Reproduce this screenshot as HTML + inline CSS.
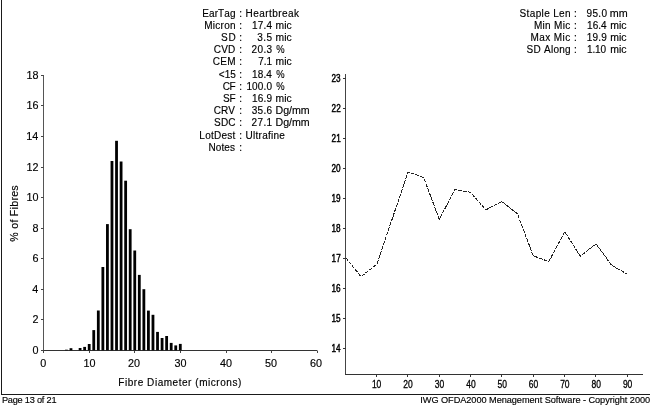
<!DOCTYPE html>
<html><head><meta charset="utf-8"><style>
html,body{margin:0;padding:0;background:#fff;width:650px;height:407px;overflow:hidden}
svg{display:block;will-change:transform;font-family:"Liberation Sans", sans-serif;font-kerning:none;font-variant-ligatures:none}
text{stroke:#000;stroke-width:0.15px}
</style></head><body>
<svg width="650" height="407" viewBox="0 0 650 407">
<rect width="650" height="407" fill="#fff"/>
<line x1="1.50" y1="0.00" x2="1.50" y2="395.00" stroke="#1a1a1a" stroke-width="1"/>
<line x1="1.00" y1="394.50" x2="650.00" y2="394.50" stroke="#1a1a1a" stroke-width="1"/>
<line x1="43.50" y1="75.00" x2="43.50" y2="351.00" stroke="#555" stroke-width="1"/>
<line x1="43.00" y1="350.50" x2="317.00" y2="350.50" stroke="#333" stroke-width="1"/>
<line x1="41.00" y1="350.50" x2="43.50" y2="350.50" stroke="#444" stroke-width="1"/>
<line x1="41.00" y1="319.50" x2="43.50" y2="319.50" stroke="#444" stroke-width="1"/>
<line x1="41.00" y1="289.50" x2="43.50" y2="289.50" stroke="#444" stroke-width="1"/>
<line x1="41.00" y1="258.50" x2="43.50" y2="258.50" stroke="#444" stroke-width="1"/>
<line x1="41.00" y1="228.50" x2="43.50" y2="228.50" stroke="#444" stroke-width="1"/>
<line x1="41.00" y1="197.50" x2="43.50" y2="197.50" stroke="#444" stroke-width="1"/>
<line x1="41.00" y1="167.50" x2="43.50" y2="167.50" stroke="#444" stroke-width="1"/>
<line x1="41.00" y1="136.50" x2="43.50" y2="136.50" stroke="#444" stroke-width="1"/>
<line x1="41.00" y1="105.50" x2="43.50" y2="105.50" stroke="#444" stroke-width="1"/>
<line x1="41.00" y1="75.50" x2="43.50" y2="75.50" stroke="#444" stroke-width="1"/>
<line x1="43.50" y1="350.50" x2="43.50" y2="353.00" stroke="#444" stroke-width="1"/>
<line x1="89.50" y1="350.50" x2="89.50" y2="353.00" stroke="#444" stroke-width="1"/>
<line x1="134.50" y1="350.50" x2="134.50" y2="353.00" stroke="#444" stroke-width="1"/>
<line x1="180.50" y1="350.50" x2="180.50" y2="353.00" stroke="#444" stroke-width="1"/>
<line x1="226.50" y1="350.50" x2="226.50" y2="353.00" stroke="#444" stroke-width="1"/>
<line x1="271.50" y1="350.50" x2="271.50" y2="353.00" stroke="#444" stroke-width="1"/>
<line x1="317.50" y1="350.50" x2="317.50" y2="353.00" stroke="#444" stroke-width="1"/>
<rect x="65.02" y="349.70" width="2.80" height="0.60" fill="#000"/>
<rect x="69.58" y="348.20" width="2.80" height="2.10" fill="#000"/>
<rect x="78.69" y="348.00" width="2.80" height="2.30" fill="#000"/>
<rect x="83.24" y="346.90" width="2.80" height="3.40" fill="#000"/>
<rect x="87.80" y="344.00" width="2.80" height="6.30" fill="#000"/>
<rect x="92.35" y="330.10" width="2.80" height="20.20" fill="#000"/>
<rect x="96.91" y="310.50" width="2.80" height="39.80" fill="#000"/>
<rect x="101.46" y="267.00" width="2.80" height="83.30" fill="#000"/>
<rect x="106.02" y="224.10" width="2.80" height="126.20" fill="#000"/>
<rect x="110.57" y="161.00" width="2.80" height="189.30" fill="#000"/>
<rect x="115.13" y="140.80" width="2.80" height="209.50" fill="#000"/>
<rect x="119.69" y="161.50" width="2.80" height="188.80" fill="#000"/>
<rect x="124.24" y="180.70" width="2.80" height="169.60" fill="#000"/>
<rect x="128.79" y="229.20" width="2.80" height="121.10" fill="#000"/>
<rect x="133.35" y="250.50" width="2.80" height="99.80" fill="#000"/>
<rect x="137.91" y="274.90" width="2.80" height="75.40" fill="#000"/>
<rect x="142.46" y="289.20" width="2.80" height="61.10" fill="#000"/>
<rect x="147.01" y="310.60" width="2.80" height="39.70" fill="#000"/>
<rect x="151.57" y="314.80" width="2.80" height="35.50" fill="#000"/>
<rect x="156.12" y="331.90" width="2.80" height="18.40" fill="#000"/>
<rect x="160.68" y="338.00" width="2.80" height="12.30" fill="#000"/>
<rect x="165.23" y="336.00" width="2.80" height="14.30" fill="#000"/>
<rect x="169.79" y="342.90" width="2.80" height="7.40" fill="#000"/>
<rect x="174.34" y="345.40" width="2.80" height="4.90" fill="#000"/>
<rect x="178.90" y="343.90" width="2.80" height="6.40" fill="#000"/>
<line x1="345.50" y1="74.00" x2="345.50" y2="375.00" stroke="#444" stroke-width="1"/>
<line x1="345.00" y1="374.50" x2="643.00" y2="374.50" stroke="#333" stroke-width="1"/>
<line x1="343.00" y1="348.50" x2="345.50" y2="348.50" stroke="#333" stroke-width="1"/>
<line x1="343.00" y1="318.50" x2="345.50" y2="318.50" stroke="#333" stroke-width="1"/>
<line x1="343.00" y1="288.50" x2="345.50" y2="288.50" stroke="#333" stroke-width="1"/>
<line x1="343.00" y1="258.50" x2="345.50" y2="258.50" stroke="#333" stroke-width="1"/>
<line x1="343.00" y1="228.50" x2="345.50" y2="228.50" stroke="#333" stroke-width="1"/>
<line x1="343.00" y1="198.50" x2="345.50" y2="198.50" stroke="#333" stroke-width="1"/>
<line x1="343.00" y1="168.50" x2="345.50" y2="168.50" stroke="#333" stroke-width="1"/>
<line x1="343.00" y1="138.50" x2="345.50" y2="138.50" stroke="#333" stroke-width="1"/>
<line x1="343.00" y1="108.50" x2="345.50" y2="108.50" stroke="#333" stroke-width="1"/>
<line x1="343.00" y1="78.50" x2="345.50" y2="78.50" stroke="#333" stroke-width="1"/>
<line x1="376.50" y1="374.50" x2="376.50" y2="377.00" stroke="#333" stroke-width="1"/>
<line x1="407.50" y1="374.50" x2="407.50" y2="377.00" stroke="#333" stroke-width="1"/>
<line x1="439.50" y1="374.50" x2="439.50" y2="377.00" stroke="#333" stroke-width="1"/>
<line x1="470.50" y1="374.50" x2="470.50" y2="377.00" stroke="#333" stroke-width="1"/>
<line x1="501.50" y1="374.50" x2="501.50" y2="377.00" stroke="#333" stroke-width="1"/>
<line x1="533.50" y1="374.50" x2="533.50" y2="377.00" stroke="#333" stroke-width="1"/>
<line x1="564.50" y1="374.50" x2="564.50" y2="377.00" stroke="#333" stroke-width="1"/>
<line x1="595.50" y1="374.50" x2="595.50" y2="377.00" stroke="#333" stroke-width="1"/>
<line x1="627.50" y1="374.50" x2="627.50" y2="377.00" stroke="#333" stroke-width="1"/>
<path d="M345.6,257.5 L361,276.6 L376.9,264.3 L392.5,218 L408.1,171.9 L423.6,177.5 L439.3,219.3 L454.8,189.7 L470.3,192.2 L485.9,209.9 L501.8,201.5 L517.5,213.9 L533.2,255.8 L548.8,261.6 L564.7,231.7 L580.3,256.1 L596.1,244.1 L611.5,265.1 L627.3,274.2" fill="none" stroke="#222" stroke-width="1" stroke-dasharray="4 1" shape-rendering="crispEdges"/>
<text x="202.23" y="16.80" font-size="10" font-weight="normal" fill="#000" letter-spacing="0.114">EarTag</text>
<text x="239.29" y="16.80" font-size="10" font-weight="normal" fill="#000">:</text>
<text x="245.53" y="16.80" font-size="10" font-weight="normal" fill="#000" letter-spacing="0.438">Heartbreak</text>
<text x="204.23" y="28.97" font-size="10" font-weight="normal" fill="#000" letter-spacing="0.273">Micron</text>
<text x="239.29" y="28.97" font-size="10" font-weight="normal" fill="#000">:</text>
<text x="251.99" y="28.97" font-size="10" font-weight="normal" fill="#000" letter-spacing="0.164">17.4</text>
<text x="-0.66" y="0" font-size="10" font-weight="normal" fill="#000" transform="translate(276.25,28.97) scale(1.0325,1)">mic</text>
<text x="221.10" y="41.14" font-size="10" font-weight="normal" fill="#000" letter-spacing="0.641">SD</text>
<text x="239.29" y="41.14" font-size="10" font-weight="normal" fill="#000">:</text>
<text x="257.27" y="41.14" font-size="10" font-weight="normal" fill="#000" letter-spacing="0.450">3.5</text>
<text x="-0.66" y="0" font-size="10" font-weight="normal" fill="#000" transform="translate(276.25,41.14) scale(1.0325,1)">mic</text>
<text x="213.74" y="53.31" font-size="10" font-weight="normal" fill="#000" letter-spacing="0.187">CVD</text>
<text x="239.29" y="53.31" font-size="10" font-weight="normal" fill="#000">:</text>
<text x="251.55" y="53.31" font-size="10" font-weight="normal" fill="#000" letter-spacing="0.360">20.3</text>
<text x="-0.36" y="0" font-size="10" font-weight="normal" fill="#000" transform="translate(276.65,53.31) scale(0.9415,1)">%</text>
<text x="212.74" y="65.48" font-size="10" font-weight="normal" fill="#000" letter-spacing="0.303">CEM</text>
<text x="239.29" y="65.48" font-size="10" font-weight="normal" fill="#000">:</text>
<text x="258.34" y="65.48" font-size="10" font-weight="normal" fill="#000" letter-spacing="-0.050">7.1</text>
<text x="-0.66" y="0" font-size="10" font-weight="normal" fill="#000" transform="translate(276.25,65.48) scale(1.0325,1)">mic</text>
<text x="218.86" y="77.65" font-size="10" font-weight="normal" fill="#000" letter-spacing="0.025">&lt;15</text>
<text x="239.29" y="77.65" font-size="10" font-weight="normal" fill="#000">:</text>
<text x="251.89" y="77.65" font-size="10" font-weight="normal" fill="#000" letter-spacing="0.197">18.4</text>
<text x="-0.36" y="0" font-size="10" font-weight="normal" fill="#000" transform="translate(276.65,77.65) scale(0.9415,1)">%</text>
<text x="222.74" y="89.82" font-size="10" font-weight="normal" fill="#000" letter-spacing="-0.522">CF</text>
<text x="239.29" y="89.82" font-size="10" font-weight="normal" fill="#000">:</text>
<text x="246.39" y="89.82" font-size="10" font-weight="normal" fill="#000" letter-spacing="0.157">100.0</text>
<text x="-0.36" y="0" font-size="10" font-weight="normal" fill="#000" transform="translate(276.65,89.82) scale(0.9415,1)">%</text>
<text x="223.10" y="101.99" font-size="10" font-weight="normal" fill="#000" letter-spacing="-0.324">SF</text>
<text x="239.29" y="101.99" font-size="10" font-weight="normal" fill="#000">:</text>
<text x="251.99" y="101.99" font-size="10" font-weight="normal" fill="#000" letter-spacing="0.224">16.9</text>
<text x="-0.66" y="0" font-size="10" font-weight="normal" fill="#000" transform="translate(276.25,101.99) scale(1.0325,1)">mic</text>
<text x="213.74" y="114.16" font-size="10" font-weight="normal" fill="#000" letter-spacing="0.069">CRV</text>
<text x="239.29" y="114.16" font-size="10" font-weight="normal" fill="#000">:</text>
<text x="251.77" y="114.16" font-size="10" font-weight="normal" fill="#000" letter-spacing="0.286">35.6</text>
<text x="-0.82" y="0" font-size="10" font-weight="normal" fill="#000" transform="translate(276.35,114.16) scale(1.0637,1)">Dg/mm</text>
<text x="214.10" y="126.33" font-size="10" font-weight="normal" fill="#000" letter-spacing="0.161">SDC</text>
<text x="239.29" y="126.33" font-size="10" font-weight="normal" fill="#000">:</text>
<text x="251.55" y="126.33" font-size="10" font-weight="normal" fill="#000" letter-spacing="0.376">27.1</text>
<text x="-0.82" y="0" font-size="10" font-weight="normal" fill="#000" transform="translate(276.35,126.33) scale(1.0637,1)">Dg/mm</text>
<text x="199.33" y="138.50" font-size="10" font-weight="normal" fill="#000" letter-spacing="0.238">LotDest</text>
<text x="239.29" y="138.50" font-size="10" font-weight="normal" fill="#000">:</text>
<text x="245.58" y="138.50" font-size="10" font-weight="normal" fill="#000" letter-spacing="0.260">Ultrafine</text>
<text x="208.43" y="150.67" font-size="10" font-weight="normal" fill="#000" letter-spacing="0.090">Notes</text>
<text x="239.29" y="150.67" font-size="10" font-weight="normal" fill="#000">:</text>
<text x="519.60" y="16.50" font-size="10" font-weight="normal" fill="#000" letter-spacing="0.354">Staple Len</text>
<text x="574.09" y="16.50" font-size="10" font-weight="normal" fill="#000">:</text>
<text x="586.48" y="16.50" font-size="10" font-weight="normal" fill="#000" letter-spacing="0.365">95.0</text>
<text x="-0.66" y="0" font-size="10" font-weight="normal" fill="#000" transform="translate(610.55,16.50) scale(1.0758,1)">mm</text>
<text x="533.93" y="28.70" font-size="10" font-weight="normal" fill="#000" letter-spacing="0.307">Min Mic</text>
<text x="574.09" y="28.70" font-size="10" font-weight="normal" fill="#000">:</text>
<text x="587.09" y="28.70" font-size="10" font-weight="normal" fill="#000" letter-spacing="0.031">16.4</text>
<text x="-0.66" y="0" font-size="10" font-weight="normal" fill="#000" transform="translate(610.95,28.70) scale(1.0462,1)">mic</text>
<text x="530.53" y="40.90" font-size="10" font-weight="normal" fill="#000" letter-spacing="0.410">Max Mic</text>
<text x="574.09" y="40.90" font-size="10" font-weight="normal" fill="#000">:</text>
<text x="586.69" y="40.90" font-size="10" font-weight="normal" fill="#000" letter-spacing="0.224">19.9</text>
<text x="-0.66" y="0" font-size="10" font-weight="normal" fill="#000" transform="translate(610.95,40.90) scale(1.0462,1)">mic</text>
<text x="526.50" y="53.10" font-size="10" font-weight="normal" fill="#000" letter-spacing="0.265">SD Along</text>
<text x="574.09" y="53.10" font-size="10" font-weight="normal" fill="#000">:</text>
<text x="587.09" y="53.10" font-size="10" font-weight="normal" fill="#000" letter-spacing="-0.170">1.10</text>
<text x="-0.66" y="0" font-size="10" font-weight="normal" fill="#000" transform="translate(610.95,53.10) scale(1.0462,1)">mic</text>
<text x="32.42" y="354.10" font-size="10.8" font-weight="normal" fill="#000">0</text>
<text x="32.54" y="323.10" font-size="10.8" font-weight="normal" fill="#000">2</text>
<text x="32.31" y="293.10" font-size="10.8" font-weight="normal" fill="#000">4</text>
<text x="32.47" y="262.10" font-size="10.8" font-weight="normal" fill="#000">6</text>
<text x="32.46" y="232.10" font-size="10.8" font-weight="normal" fill="#000">8</text>
<text x="26.41" y="201.10" font-size="10.8" font-weight="normal" fill="#000">10</text>
<text x="26.53" y="171.10" font-size="10.8" font-weight="normal" fill="#000">12</text>
<text x="26.30" y="140.10" font-size="10.8" font-weight="normal" fill="#000">14</text>
<text x="26.46" y="109.10" font-size="10.8" font-weight="normal" fill="#000">16</text>
<text x="26.46" y="79.10" font-size="10.8" font-weight="normal" fill="#000">18</text>
<text x="40.30" y="367.00" font-size="10.8" font-weight="normal" fill="#000">0</text>
<text x="83.39" y="367.00" font-size="10.8" font-weight="normal" fill="#000">10</text>
<text x="128.03" y="367.00" font-size="10.8" font-weight="normal" fill="#000">20</text>
<text x="174.40" y="367.00" font-size="10.8" font-weight="normal" fill="#000">30</text>
<text x="219.88" y="367.00" font-size="10.8" font-weight="normal" fill="#000">40</text>
<text x="265.09" y="367.00" font-size="10.8" font-weight="normal" fill="#000">50</text>
<text x="309.93" y="367.00" font-size="10.8" font-weight="normal" fill="#000">60</text>
<text x="118.33" y="385.70" font-size="10" font-weight="normal" fill="#000" letter-spacing="0.538">Fibre Diameter (microns)</text>
<text x="-0.38" y="0" font-size="10.6" font-weight="normal" fill="#000" letter-spacing="0.276" transform="translate(17.80,241.30) rotate(-90)">% of Fibres</text>
<text x="-0.76" y="0" font-size="10" font-weight="normal" fill="#000" style="stroke-width:0.45px" transform="translate(332.04,352.05) scale(0.8200,1)">14</text>
<text x="-0.76" y="0" font-size="10" font-weight="normal" fill="#000" style="stroke-width:0.45px" transform="translate(332.15,322.05) scale(0.8200,1)">15</text>
<text x="-0.76" y="0" font-size="10" font-weight="normal" fill="#000" style="stroke-width:0.45px" transform="translate(332.16,292.05) scale(0.8200,1)">16</text>
<text x="-0.76" y="0" font-size="10" font-weight="normal" fill="#000" style="stroke-width:0.45px" transform="translate(332.22,262.05) scale(0.8200,1)">17</text>
<text x="-0.76" y="0" font-size="10" font-weight="normal" fill="#000" style="stroke-width:0.45px" transform="translate(332.16,232.05) scale(0.8200,1)">18</text>
<text x="-0.76" y="0" font-size="10" font-weight="normal" fill="#000" style="stroke-width:0.45px" transform="translate(332.19,202.05) scale(0.8200,1)">19</text>
<text x="-0.50" y="0" font-size="10" font-weight="normal" fill="#000" style="stroke-width:0.45px" transform="translate(331.91,172.05) scale(0.8200,1)">20</text>
<text x="-0.50" y="0" font-size="10" font-weight="normal" fill="#000" style="stroke-width:0.45px" transform="translate(331.99,142.05) scale(0.8200,1)">21</text>
<text x="-0.50" y="0" font-size="10" font-weight="normal" fill="#000" style="stroke-width:0.45px" transform="translate(332.00,112.05) scale(0.8200,1)">22</text>
<text x="-0.50" y="0" font-size="10" font-weight="normal" fill="#000" style="stroke-width:0.45px" transform="translate(331.95,82.05) scale(0.8200,1)">23</text>
<text x="-0.76" y="0" font-size="10" font-weight="normal" fill="#000" style="stroke-width:0.3px" transform="translate(372.52,387.90) scale(0.8500,1)">10</text>
<text x="-0.50" y="0" font-size="10" font-weight="normal" fill="#000" style="stroke-width:0.3px" transform="translate(403.77,387.90) scale(0.8500,1)">20</text>
<text x="-0.38" y="0" font-size="10" font-weight="normal" fill="#000" style="stroke-width:0.3px" transform="translate(435.08,387.90) scale(0.8500,1)">30</text>
<text x="-0.23" y="0" font-size="10" font-weight="normal" fill="#000" style="stroke-width:0.3px" transform="translate(466.38,387.90) scale(0.8500,1)">40</text>
<text x="-0.40" y="0" font-size="10" font-weight="normal" fill="#000" style="stroke-width:0.3px" transform="translate(497.81,387.90) scale(0.8500,1)">50</text>
<text x="-0.51" y="0" font-size="10" font-weight="normal" fill="#000" style="stroke-width:0.3px" transform="translate(529.21,387.90) scale(0.8500,1)">60</text>
<text x="-0.51" y="0" font-size="10" font-weight="normal" fill="#000" style="stroke-width:0.3px" transform="translate(560.58,387.90) scale(0.8500,1)">70</text>
<text x="-0.43" y="0" font-size="10" font-weight="normal" fill="#000" style="stroke-width:0.3px" transform="translate(591.90,387.90) scale(0.8500,1)">80</text>
<text x="-0.47" y="0" font-size="10" font-weight="normal" fill="#000" style="stroke-width:0.3px" transform="translate(623.28,387.90) scale(0.8500,1)">90</text>
<text x="1.90" y="402.80" font-size="9.2" font-weight="normal" fill="#000" letter-spacing="-0.216">Page 13 of 21</text>
<text x="420.30" y="402.50" font-size="9.2" font-weight="normal" fill="#000" letter-spacing="-0.053">IWG OFDA2000 Menagement Software - Copyright 2000</text>
</svg></body></html>
